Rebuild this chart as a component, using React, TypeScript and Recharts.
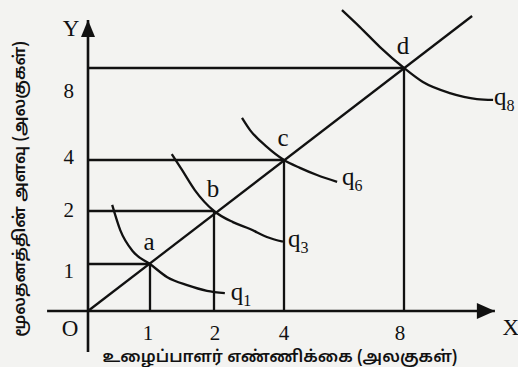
import React from 'react';
import { ComposedChart, Line, Scatter, XAxis, YAxis, LabelList } from 'recharts';

// ---- data ----
const LEVELS = [1, 2, 4, 8]; // labour = capital at points a, b, c, d
const POINT_NAMES = ['a', 'b', 'c', 'd'];
const X_TICKS = [1, 2, 4, 8];
const Y_TICKS = [1, 2, 4, 8];
const X_TITLE = 'உழைப்பாளர் எண்ணிக்கை (அலகுகள்)';
const Y_TITLE = 'மூலதனத்தின் அளவு (அலகுகள்)';

const Q1: [number, number][] = [[0.39, 2.24], [0.52, 1.64], [0.73, 1.23], [1, 1], [1.27, 0.72], [1.58, 0.55], [1.89, 0.43], [2.31, 0.38]];
const Q3: [number, number][] = [[1.34, 4.26], [1.5, 3.61], [1.7, 2.82], [2, 2], [2.54, 1.79], [3.03, 1.66], [3.51, 1.51], [3.97, 1.42]];
const Q6: [number, number][] = [[2.8, 5.83], [3.03, 5.3], [3.51, 4.57], [4, 4], [4.53, 3.69], [5.1, 3.41], [5.77, 3.14]];
const Q8: [number, number][] = [[5.93, 10.52], [6.53, 9.78], [7.2, 8.91], [8, 8], [8.63, 7.39], [9.53, 6.91], [10.43, 6.65], [10.97, 6.61]];
const Q_NAMES = ['1', '3', '6', '8'];
const RAY: [number, number][] = [[0, 0], [10.27, 10.26]];
const X_AXIS_LINE: [number, number][] = [[-0.66, 0], [11.03, 0]];
const Y_AXIS_LINE: [number, number][] = [[0, -0.87], [0, 10.09]];

// ---- axis layout (value -> pixel knots of the printed, non-uniform axes) ----
const X_KNOTS: [number, number][] = [[-1, 26], [0, 88], [1, 150], [2, 214], [4, 284], [8, 404], [12, 524]];
const Y_KNOTS: [number, number][] = [[-1, 358], [0, 311], [1, 264], [2, 211], [4, 160], [8, 68], [12, -24]];
const Y_TICK_NUDGE: Record<number, number> = { 1: 7, 2: -1, 4: -3, 8: 23 };
const X_TICK_NUDGE: Record<number, number> = { 1: -2, 2: 1, 4: 0, 8: -4 };

function pieceScale(knots: [number, number][]): any {
  let dom: number[] = [knots[0][0], knots[knots.length - 1][0]];
  let rng: number[] = [knots[0][1], knots[knots.length - 1][1]];
  const seg = (v: number) => {
    let i = 0;
    while (i < knots.length - 2 && v > knots[i + 1][0]) i++;
    return i;
  };
  const f: any = (v: number) => {
    const i = seg(v);
    const [v0, p0] = knots[i];
    const [v1, p1] = knots[i + 1];
    return p0 + ((v - v0) * (p1 - p0)) / (v1 - v0);
  };
  f.domain = (d?: number[]) => {
    if (d === undefined) return dom.slice();
    dom = d.slice();
    return f;
  };
  f.range = (r?: number[]) => {
    if (r === undefined) return rng.slice();
    rng = r.slice();
    return f;
  };
  f.copy = () => pieceScale(knots).domain(dom).range(rng);
  f.ticks = () => knots.map((k) => k[0]);
  f.tickFormat = () => (v: number) => String(v);
  f.invert = (p: number) => {
    let i = 0;
    const asc = knots[1][1] > knots[0][1];
    while (i < knots.length - 2 && (asc ? p > knots[i + 1][1] : p < knots[i + 1][1])) i++;
    const [v0, p0] = knots[i];
    const [v1, p1] = knots[i + 1];
    return v0 + ((p - p0) * (v1 - v0)) / (p1 - p0);
  };
  f.clamp = () => f;
  f.nice = () => f;
  return f;
}

const xScale = pieceScale(X_KNOTS);
const yScale = pieceScale(Y_KNOTS);

const toRows = (pts: [number, number][]) => pts.map(([x, y]) => ({ x, y }));

const INK = '#111111';
const SW = 2.3;
const SERIF = '"Liberation Serif", "DejaVu Serif", serif';
const TAMIL = '"Noto Sans Tamil", "Lohit Tamil", "Noto Sans", sans-serif';

const XTick = (p: any) => (
  <text x={p.x + (X_TICK_NUDGE[p.payload.value] ?? 0)} y={311 + 29} textAnchor="middle" fontFamily={SERIF} fontSize={21} fill={INK}>
    {p.payload.value}
  </text>
);
const YTick = (p: any) => (
  <text x={74} y={p.y + 7 + (Y_TICK_NUDGE[p.payload.value] ?? 0)} textAnchor="end" fontFamily={SERIF} fontSize={21} fill={INK}>
    {p.payload.value}
  </text>
);

const qLabel = (name: string, last: number, dx: number, dy: number) => (props: any) => {
  if (props.index !== last) return <g key={`ql-${props.index}`} />;
  return (
    <text key="ql" x={props.x + dx} y={props.y + dy} fontFamily={SERIF} fontSize={25} fill={INK}>
      q
      <tspan fontSize={16} dy={6}>
        {name}
      </tspan>
    </text>
  );
};

const arrowDot = (last: number, dir: 'right' | 'up') => (p: any) => {
  if (p.index !== last) return <g key={`ad-${p.index}`} />;
  const { cx, cy } = p;
  const pts =
    dir === 'right'
      ? `${cx},${cy} ${cx - 18},${cy - 8} ${cx - 18},${cy + 8}`
      : `${cx},${cy} ${cx - 7},${cy + 17} ${cx + 7},${cy + 17}`;
  return <polygon key="arrow" points={pts} fill={INK} stroke="none" />;
};

const endText = (last: number, text: string, dx: number, dy: number) => (props: any) => {
  if (props.index !== last) return <g key={`et-${props.index}`} />;
  return (
    <text key="et" x={props.x + dx} y={props.y + dy} textAnchor="middle" fontFamily={SERIF} fontSize={23} fill={INK}>
      {text}
    </text>
  );
};

const pointRows = LEVELS.map((v, i) => ({ x: v, y: v, name: POINT_NAMES[i] }));

export default function App() {
  const isoquants = [Q1, Q3, Q6, Q8];
  const qOffsets: [number, number][] = [[6, 7], [5, 5], [5, 3], [1, 5]];
  return (
    <div style={{ position: 'absolute', left: 0, top: 0, width: 518, height: 367, background: '#f3f3f1' }}>
      <ComposedChart width={518} height={367} margin={{ top: 8, right: 18, bottom: 36, left: 68 }}>
        <XAxis
          type="number"
          dataKey="x"
          domain={[0, 11.2]}
          scale={xScale}
          ticks={X_TICKS}
          axisLine={false}
          tickLine={false}
          tickSize={0}
          tickMargin={0}
          height={20}
          tick={XTick}
          interval={0}
          label={{
            content: () => (
              <text x={280} y={362} textAnchor="middle" fontFamily={TAMIL} fontSize={16.5} fontWeight={600} fill={INK}>
                {X_TITLE}
              </text>
            ),
          }}
        />
        <YAxis
          type="number"
          dataKey="y"
          domain={[0, 10.6]}
          scale={yScale}
          ticks={Y_TICKS}
          axisLine={false}
          tickLine={false}
          tickSize={0}
          tickMargin={0}
          width={20}
          tick={YTick}
          interval={0}
          label={{
            content: () => (
              <text transform="translate(25,189) rotate(-90)" textAnchor="middle" fontFamily={TAMIL} fontSize={16.5} fontWeight={600} fill={INK}>
                {Y_TITLE}
              </text>
            ),
          }}
        />
        {/* guide lines */}
        {LEVELS.map((v) => (
          <Line
            key={`h${v}`}
            data={toRows([[0, v], [v, v]])}
            dataKey="y"
            type="linear"
            stroke={INK}
            strokeWidth={SW}
            dot={false}
            activeDot={false}
            isAnimationActive={false}
          />
        ))}
        {LEVELS.map((v) => (
          <Line
            key={`v${v}`}
            data={toRows([[v, 0], [v, v]])}
            dataKey="y"
            type="linear"
            stroke={INK}
            strokeWidth={SW}
            dot={false}
            activeDot={false}
            isAnimationActive={false}
          />
        ))}
        {/* axes */}
        <Line
          data={toRows(X_AXIS_LINE)}
          dataKey="y"
          type="linear"
          stroke={INK}
          strokeWidth={2.6}
          dot={arrowDot(1, 'right')}
          activeDot={false}
          isAnimationActive={false}
          label={endText(1, 'X', 16, 24)}
        />
        <Line
          data={toRows(Y_AXIS_LINE)}
          dataKey="y"
          type="linear"
          stroke={INK}
          strokeWidth={2.6}
          dot={arrowDot(1, 'up')}
          activeDot={false}
          isAnimationActive={false}
          label={endText(1, 'Y', -17, 16)}
        />
        {/* expansion path */}
        <Line
          data={toRows(RAY)}
          dataKey="y"
          type="linear"
          stroke={INK}
          strokeWidth={SW}
          dot={false}
          activeDot={false}
          isAnimationActive={false}
          label={endText(0, 'O', -18, 25)}
        />
        {/* isoquants */}
        {isoquants.map((q, i) => (
          <Line
            key={`q${i}`}
            data={toRows(q)}
            dataKey="y"
            type="monotone"
            stroke={INK}
            strokeWidth={SW}
            dot={false}
            activeDot={false}
            isAnimationActive={false}
            label={qLabel(Q_NAMES[i], q.length - 1, qOffsets[i][0], qOffsets[i][1])}
          />
        ))}
        <Scatter data={pointRows} dataKey="y" shape={() => <g />} isAnimationActive={false}>
          <LabelList
            dataKey="name"
            content={(p: any) => (
              <text x={p.x + p.width / 2 - 1} y={p.y + p.height / 2 - 14} textAnchor="middle" fontFamily={SERIF} fontSize={25} fill={INK}>
                {p.value}
              </text>
            )}
          />
        </Scatter>
      </ComposedChart>
    </div>
  );
}
